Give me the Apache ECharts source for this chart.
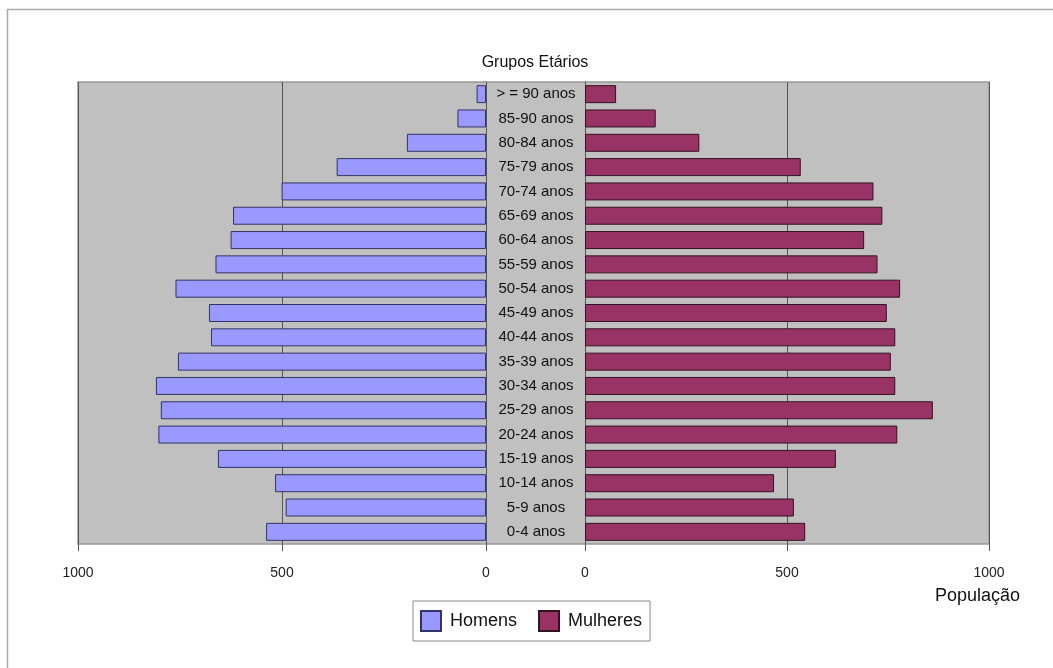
<!DOCTYPE html>
<html>
<head>
<meta charset="utf-8">
<script src="https://cdn.jsdelivr.net/npm/echarts@6/dist/echarts.min.js"></script>
<style>html,body{margin:0;padding:0;background:#fff}#c{width:1053px;height:668px}</style>
</head>
<body>
<div id="c"></div>
<script>
const categories = ['0-4 anos','5-9 anos','10-14 anos','15-19 anos','20-24 anos','25-29 anos','30-34 anos','35-39 anos','40-44 anos','45-49 anos','50-54 anos','55-59 anos','60-64 anos','65-69 anos','70-74 anos','75-79 anos','80-84 anos','85-90 anos','> = 90 anos'];
const homens   = [539, 491, 517, 657, 803, 797, 809, 755, 674, 679, 761, 663, 626, 620, 501, 366, 194, 70, 23];
const mulheres = [545, 517, 468, 621, 773, 861, 768, 757, 768, 747, 780, 724, 691, 736, 714, 534, 283, 175, 77];
const xTicks = [0, 500, 1000];
const seriesNames = ['Homens', 'Mulheres'];
const titleText = 'Grupos Etários';
const axisName = 'População';

const font = 'Liberation Sans, Arial, sans-serif';
const chart = echarts.init(document.getElementById('c'), null, {renderer: 'canvas'});
const xMin = xTicks[0], xMax = xTicks[xTicks.length - 1], xInt = xTicks[1] - xTicks[0];

const commonX = {
  type: 'value', min: xMin, max: xMax, interval: xInt,
  axisLine: {show: false},
  axisTick: {show: true, length: 7, lineStyle: {color: '#555', width: 1}},
  axisLabel: {margin: 22, fontSize: 14, color: '#222', fontFamily: font, formatter: v => String(v)},
  splitLine: {show: true, lineStyle: {color: '#555', width: 1}}
};

chart.setOption({
  animation: false,
  backgroundColor: '#fff',
  textStyle: {fontFamily: font},
  title: [
    {text: titleText, left: 535, top: 55, padding: 0, textAlign: 'center',
     textStyle: {fontSize: 16, fontWeight: 'normal', color: '#111', fontFamily: font}},
    {text: axisName, right: 33, top: 587, padding: 0,
     textStyle: {fontSize: 18, fontWeight: 'normal', color: '#111', fontFamily: font}}
  ],
  graphic: [{
    type: 'rect', silent: true, z: -10,
    shape: {x: 7.5, y: 9.5, width: 1200, height: 800},
    style: {fill: 'none', stroke: '#aaa', lineWidth: 1.5}
  }],
  legend: {
    data: seriesNames, left: 413, top: 601, icon: 'rect',
    padding: [9, 8, 9, 7], itemGap: 21, itemWidth: 20, itemHeight: 20,
    borderColor: '#888', borderWidth: 1,
    textStyle: {fontSize: 18, color: '#111', fontFamily: font, padding: [0, 0, 0, 4]}
  },
  grid: [
    {left: 78, right: 64, top: 82, bottom: 124, show: true, z: -1,
     backgroundColor: '#c0c0c0', borderColor: '#999', borderWidth: 1.5},
    {left: 78, right: 567, top: 82, bottom: 124},
    {left: 585, right: 64, top: 82, bottom: 124}
  ],
  xAxis: [
    {gridIndex: 0, type: 'value', show: false, min: 0, max: 1},
    Object.assign({gridIndex: 1, inverse: true}, commonX),
    Object.assign({gridIndex: 2}, commonX)
  ],
  yAxis: [
    {gridIndex: 0, type: 'value', show: false, min: 0, max: 1},
    {gridIndex: 1, type: 'category', data: categories, position: 'right',
     axisLine: {show: true, lineStyle: {color: '#555', width: 1}},
     axisTick: {show: false}, axisLabel: {show: false}},
    {gridIndex: 2, type: 'category', data: categories, position: 'left',
     axisLine: {show: true, lineStyle: {color: '#555', width: 1}},
     axisTick: {show: false},
     axisLabel: {show: true, align: 'center', margin: 49, fontSize: 15, color: '#111', fontFamily: font}}
  ],
  series: [
    {name: seriesNames[0], type: 'bar', xAxisIndex: 1, yAxisIndex: 1, data: homens,
     barCategoryGap: '26%',
     itemStyle: {color: '#9999ff', borderColor: '#333366', borderWidth: 1}},
    {name: seriesNames[1], type: 'bar', xAxisIndex: 2, yAxisIndex: 2, data: mulheres,
     barCategoryGap: '26%',
     itemStyle: {color: '#993366', borderColor: '#331122', borderWidth: 1}}
  ]
});
</script>
</body>
</html>
